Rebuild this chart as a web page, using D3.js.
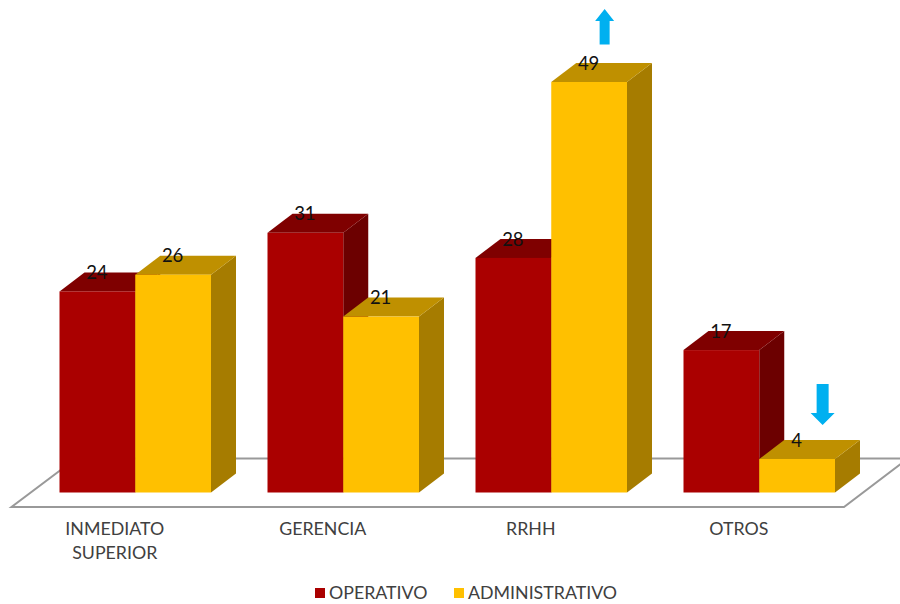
<!DOCTYPE html>
<html>
<head>
<meta charset="utf-8">
<script src="https://cdn.jsdelivr.net/npm/d3@7"></script>
<style>
html,body{margin:0;padding:0;background:#fff;}
svg{display:block;}
text{font-family:"Lato","Noto Sans",sans-serif;font-weight:400;}
</style>
</head>
<body>
<svg id="chart" width="900" height="604"></svg>
<script>
// Responses per area, split by staff type
const categories = ["INMEDIATO SUPERIOR", "GERENCIA", "RRHH", "OTROS"];
const seriesNames = ["OPERATIVO", "ADMINISTRATIVO"];
const operativo = [24, 31, 28, 17];
const administrativo = [26, 21, 49, 4];
const seriesValues = [operativo, administrativo];

const frontColors = ["#AA0000", "#FFC000"];
const topColors = ["#7F0000", "#BF9000"];
const sideColors = ["#6C0000", "#A67C00"];
const textColor = "#404040";
const floorColor = "#999999";
const arrowColor = "#00B0F0";

const depthX = 25, depthY = 19;
const baseY = 492.5;

const svg = d3.select("#chart");

const x = d3.scaleBand().domain(categories).range([59.5, 835]).paddingInner(56.5 / 208);
const xSeries = d3.scaleBand().domain(d3.range(seriesNames.length)).range([0, x.bandwidth()]);
const y = d3.scaleLinear().domain([0, 49]).range([baseY, 82]);

const path = pts => d3.line()(pts) + "Z";

// Floor plate beneath the columns
svg.append("path")
  .attr("d", path([[11.5, 507], [844, 507], [908, 458.5], [76, 458.5]]))
  .attr("fill", "#fff")
  .attr("stroke", floorColor)
  .attr("stroke-width", 2);

// Columns: top and side faces first, front face over them
categories.forEach((cat, c) => {
  seriesValues.forEach((values, s) => {
    const v = values[c];
    const x0 = x(cat) + xSeries(s), x1 = x0 + xSeries.bandwidth();
    const yt = y(v);
    const g = svg.append("g").attr("class", "column");
    g.append("path")
      .attr("d", path([[x1, yt], [x1 + depthX, yt - depthY], [x1 + depthX, baseY - depthY], [x1, baseY]]))
      .attr("fill", sideColors[s]);
    g.append("path")
      .attr("d", path([[x0, yt], [x0 + depthX, yt - depthY], [x1 + depthX, yt - depthY], [x1, yt]]))
      .attr("fill", topColors[s]);
    g.append("rect")
      .attr("x", x0).attr("y", yt)
      .attr("width", x1 - x0).attr("height", baseY - yt)
      .attr("fill", frontColors[s]);
  });
});

// Value labels sit on the top face of each column
categories.forEach((cat, c) => {
  seriesValues.forEach((values, s) => {
    const v = values[c];
    svg.append("text")
      .attr("x", x(cat) + xSeries(s) + xSeries.bandwidth() / 2 - 0.5)
      .attr("y", y(v) - 19)
      .attr("dy", "0.36em")
      .attr("text-anchor", "middle")
      .attr("font-size", 18.5)
      .attr("fill", "#111111")
      .text(v);
  });
});

// Category labels, wrapped on spaces
categories.forEach(cat => {
  const lines = cat.split(" ");
  lines.forEach((line, i) => {
    svg.append("text")
      .attr("x", x(cat) + x.bandwidth() / 2 - 20.5)
      .attr("y", 529 + i * 23.5)
      .attr("dy", "0.36em")
      .attr("text-anchor", "middle")
      .attr("font-size", 17.8)
      .attr("fill", textColor)
      .text(line);
  });
});

// Trend arrows above the highest and lowest administrative columns
function upArrow(cx, top) {
  return path([[cx, top], [cx + 9.5, top + 12], [cx + 5, top + 12], [cx + 5, top + 35.5],
               [cx - 5, top + 35.5], [cx - 5, top + 12], [cx - 9.5, top + 12]]);
}
function downArrow(cx, bottom) {
  return path([[cx, bottom], [cx + 12, bottom - 12], [cx + 6, bottom - 12], [cx + 6, bottom - 41],
               [cx - 6, bottom - 41], [cx - 6, bottom - 12], [cx - 12, bottom - 12]]);
}
const adminCenter = cat => x(cat) + xSeries(1) + xSeries.bandwidth() / 2;
svg.append("path").attr("d", upArrow(adminCenter("RRHH") + 15.5, y(49) - 73)).attr("fill", arrowColor);
svg.append("path").attr("d", downArrow(adminCenter("OTROS") + 25.5, y(4) - 34)).attr("fill", arrowColor);

// Legend
const legendX = [315, 454];
seriesNames.forEach((name, s) => {
  svg.append("rect")
    .attr("x", legendX[s]).attr("y", 588)
    .attr("width", 10).attr("height", 10)
    .attr("fill", frontColors[s]);
  svg.append("text")
    .attr("x", legendX[s] + 14)
    .attr("y", 593)
    .attr("dy", "0.36em")
    .attr("font-size", 17.8)
    .attr("fill", textColor)
    .text(name);
});
</script>
</body>
</html>
